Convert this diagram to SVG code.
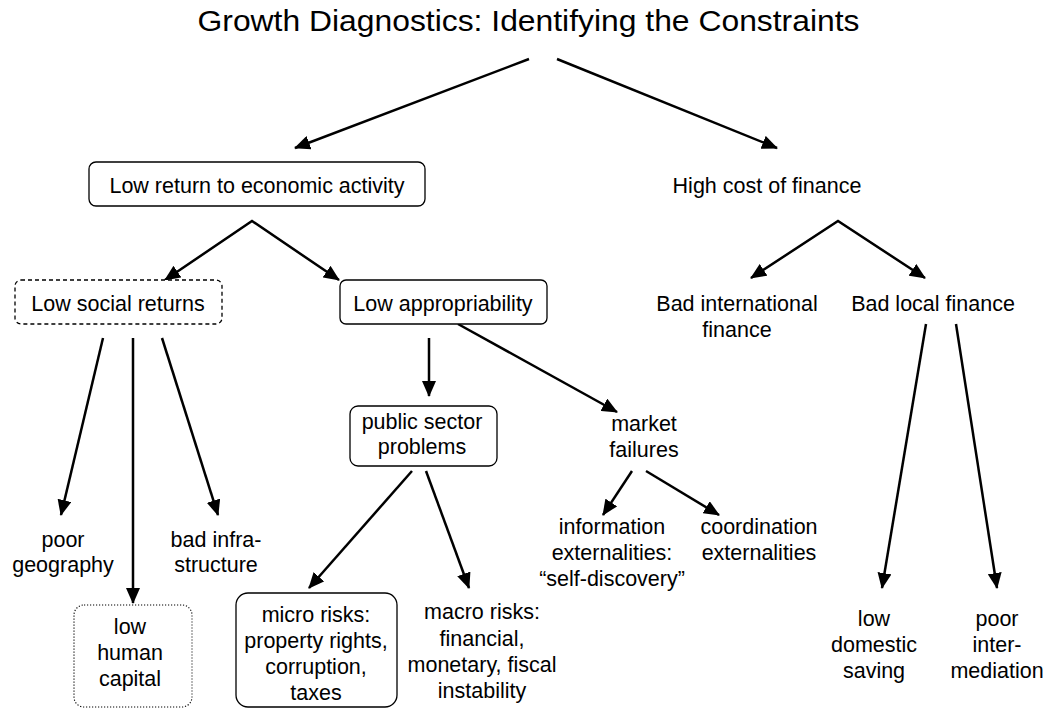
<svg xmlns="http://www.w3.org/2000/svg" width="1047" height="710" viewBox="0 0 1047 710">
<defs>
<marker id="ah" viewBox="0 0 16 14" refX="15" refY="7" markerWidth="16" markerHeight="14" markerUnits="userSpaceOnUse" orient="auto-start-reverse">
<path d="M0,0 L16,7 L0,14 z" fill="#000"/>
</marker>
<style>
text{font-family:"Liberation Sans",Arial,sans-serif;font-size:21.5px;fill:#000;text-anchor:middle}
.title{font-size:29px}
.box{fill:#fff;stroke:#000;stroke-width:1.3}
.dash{stroke-dasharray:4 3}
.dot{stroke-dasharray:1.2 1.8;stroke-width:1.1}
.c path{fill:none;stroke:#000;stroke-width:2.5;marker-end:url(#ah)}
.c path.two{marker-start:url(#ah)}
</style>
</defs>
<rect width="1047" height="710" fill="#fff"/>
<text class="title" x="528.5" y="31" textLength="662" lengthAdjust="spacingAndGlyphs">Growth Diagnostics: Identifying the Constraints</text>
<g class="c" id="connectors">
<path d="M529,59 L295,148"/>
<path d="M557,59 L777,148"/>
<path class="two" d="M165,280 L252,221 L339,280"/>
<path d="M103,338 L61,515"/>
<path d="M133,338 L133,603"/>
<path d="M162,338 L218,515"/>
<path d="M429,338 L429,396"/>
<path d="M458,324 L617,412"/>
<path d="M412,471 L309,588"/>
<path d="M426,471 L469,588"/>
<path d="M632,471 L603,515"/>
<path d="M646,471 L719,515"/>
<path class="two" d="M751,278 L838,221 L925,278"/>
<path d="M926,324 L882,588"/>
<path d="M956,324 L997,588"/>
</g>
<g id="low-return">
<rect class="box" x="89" y="162" width="336" height="44" rx="7"/>
<text x="257" y="193">Low return to economic activity</text>
</g>
<g id="high-cost">
<text x="767" y="193">High cost of finance</text>
</g>
<g id="low-social">
<rect class="box dash" x="15" y="280" width="207" height="44" rx="6"/>
<text x="118" y="311">Low social returns</text>
</g>
<g id="low-approp">
<rect class="box" x="340" y="280" width="207" height="44" rx="6"/>
<text x="443" y="311">Low appropriability</text>
</g>
<g id="bad-intl">
<text x="737" y="311">Bad international</text>
<text x="737" y="337">finance</text>
</g>
<g id="bad-local">
<text x="933" y="311">Bad local finance</text>
</g>
<g id="public-sector">
<rect class="box" x="350" y="406" width="147" height="60" rx="8"/>
<text x="422" y="429">public sector</text>
<text x="422" y="454">problems</text>
</g>
<g id="market-failures">
<text x="644" y="431">market</text>
<text x="644" y="457">failures</text>
</g>
<g id="poor-geo">
<text x="63" y="547">poor</text>
<text x="63" y="572">geography</text>
</g>
<g id="bad-infra">
<text x="216" y="547">bad infra-</text>
<text x="216" y="572">structure</text>
</g>
<g id="human-capital">
<rect class="box dot" x="74" y="605" width="118" height="102" rx="10"/>
<text x="130" y="634">low</text>
<text x="130" y="660">human</text>
<text x="130" y="686">capital</text>
</g>
<g id="micro-risks">
<rect class="box" x="236" y="593" width="161" height="114" rx="12"/>
<text x="316" y="622">micro risks:</text>
<text x="316" y="648">property rights,</text>
<text x="316" y="674">corruption,</text>
<text x="316" y="700">taxes</text>
</g>
<g id="macro-risks">
<text x="482" y="619">macro risks:</text>
<text x="482" y="646">financial,</text>
<text x="482" y="672">monetary, fiscal</text>
<text x="482" y="698">instability</text>
</g>
<g id="info-ext">
<text x="612" y="534">information</text>
<text x="612" y="560">externalities:</text>
<text x="612" y="586">“self-discovery”</text>
</g>
<g id="coord-ext">
<text x="759" y="534">coordination</text>
<text x="759" y="560">externalities</text>
</g>
<g id="low-saving">
<text x="874" y="626">low</text>
<text x="874" y="652">domestic</text>
<text x="874" y="678">saving</text>
</g>
<g id="poor-inter">
<text x="997" y="626">poor</text>
<text x="997" y="652">inter-</text>
<text x="997" y="678">mediation</text>
</g>
</svg>
